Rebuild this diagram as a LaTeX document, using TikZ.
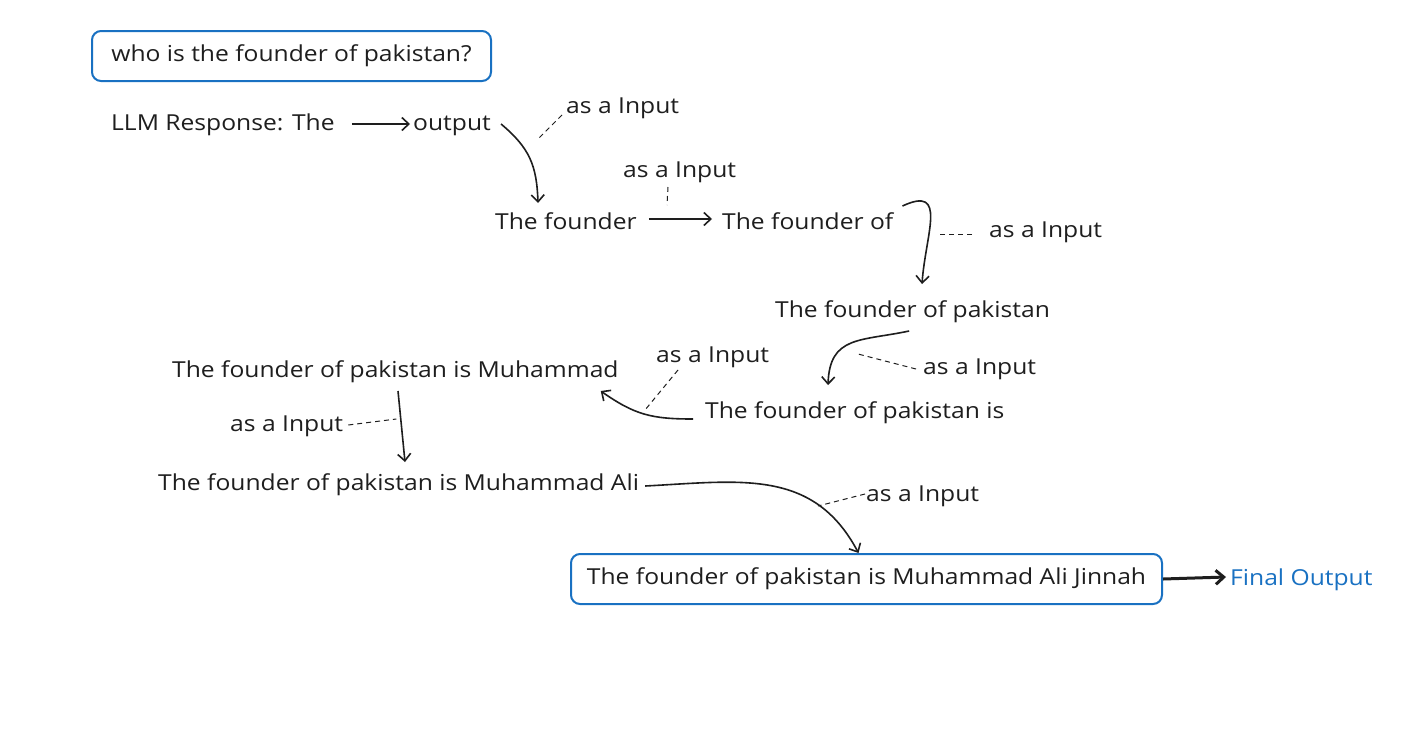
\documentclass[tikz,border=0pt]{standalone}
\usepackage{fontspec}
\setmainfont[FakeStretch=1.12]{Open Sans}
\usetikzlibrary{arrows.meta,positioning}
\definecolor{inkDark}{RGB}{30,30,30}
\definecolor{queryBlue}{RGB}{25,113,194}
\tikzset{
  stepText/.style={inner sep=0pt, anchor=base west, text=inkDark,
    font=\fontsize{22}{26}\selectfont},
  inputLabel/.style={stepText},
  queryBox/.style={
    rectangle, rounded corners=9pt, draw=queryBlue, line width=2pt,
    inner sep=0pt, minimum height=50pt,
    text=inkDark, font=\fontsize{22}{26}\selectfont
  },
  flowArrow/.style={-{Straight Barb[length=7pt,width=13pt]}, line width=1.6pt, draw=inkDark},
  finalArrow/.style={-{Straight Barb[length=8pt,width=14pt]}, line width=3pt, draw=inkDark},
  inputDash/.style={dash pattern=on 5pt off 4pt, line width=1pt, draw=inkDark}
}
\begin{document}
\begin{tikzpicture}[x=1pt,y=1pt]
  \useasboundingbox[fill=white] (0,0) rectangle (1423,-747);

  \node[queryBox, minimum width=399pt] (query) at (291.5,-56)
    {who is the founder of pakistan?};

  \node[stepText] (resp) at (111,-130) {LLM Response: The};
  \node[stepText] (out) at (413,-130) {output};
  \node[stepText] (f1) at (495,-229) {The founder};
  \node[stepText] (f2) at (722,-229) {The founder of};
  \node[stepText] (f3) at (775,-317) {The founder of pakistan};
  \node[stepText] (f4) at (705,-418) {The founder of pakistan is};
  \node[stepText] (f5) at (172,-377) {The founder of pakistan is Muhammad};
  \node[stepText] (f6) at (158,-490) {The founder of pakistan is Muhammad Ali};
  \node[queryBox, minimum width=591pt] (final) at (866.5,-579)
    {The founder of pakistan is Muhammad Ali Jinnah};
  \node[stepText, text=queryBlue] (fout) at (1230,-585) {Final Output};

  \node[inputLabel] (lab1) at (566,-113) {as a Input};
  \node[inputLabel] (lab2) at (623,-177) {as a Input};
  \node[inputLabel] (lab3) at (989,-237) {as a Input};
  \node[inputLabel] (lab4) at (923,-374) {as a Input};
  \node[inputLabel] (lab5) at (656,-362) {as a Input};
  \node[inputLabel] (lab6) at (230,-431) {as a Input};
  \node[inputLabel] (lab7) at (866,-501) {as a Input};

  \draw[flowArrow] ([shift={(17,6)}]resp.base east) -- ([shift={(-3,6)}]out.base west);
  \draw[flowArrow] ([shift={(10,6)}]out.base east)
    to[out=-40,in=92,looseness=1.1] ([shift={(43,26)}]f1.base west);
  \draw[flowArrow] ([shift={(12,10)}]f1.base east) -- ([shift={(-10,10)}]f2.base west);
  \draw[flowArrow] ([shift={(9,23)}]f2.base east)
    to[out=25,in=86,looseness=1.6] ([shift={(147,33)}]f3.base west);
  \draw[flowArrow] ([shift={(-141,-14)}]f3.base east)
    to[out=192,in=88,looseness=1.3] ([shift={(123,33)}]f4.base west);
  \draw[flowArrow] ([shift={(-12,-1)}]f4.base west)
    to[out=180,in=-35,looseness=1.1] ([shift={(-18,-14)}]f5.base east);
  \draw[flowArrow] ([shift={(226,-14)}]f5.base west) -- ([shift={(247,28)}]f6.base west);
  \draw[flowArrow] ([shift={(6,4)}]f6.base east)
    to[out=3,in=118,looseness=1.1] ([xshift=-8pt]final.north);
  \draw[finalArrow] (final.east) -- ([shift={(-4,8)}]fout.base west);

  \draw[inputDash] ([shift={(-4,-2)}]lab1.base west) -- ([shift={(-29,-27)}]lab1.base west);
  \draw[inputDash] ([shift={(45,-10)}]lab2.base west) -- ([shift={(44,-28)}]lab2.base west);
  \draw[inputDash] ([shift={(-17,3)}]lab3.base west) -- ([shift={(-51,3)}]lab3.base west);
  \draw[inputDash] ([shift={(-7,5)}]lab4.base west) -- ([shift={(-65,20)}]lab4.base west);
  \draw[inputDash] ([shift={(22,-8)}]lab5.base west) -- ([shift={(-11,-48)}]lab5.base west);
  \draw[inputDash] ([shift={(5,6)}]lab6.base east) -- ([shift={(53,12)}]lab6.base east);
  \draw[inputDash] ([shift={(-1,7)}]lab7.base west) -- ([shift={(-48,-5)}]lab7.base west);
\end{tikzpicture}
\end{document}
